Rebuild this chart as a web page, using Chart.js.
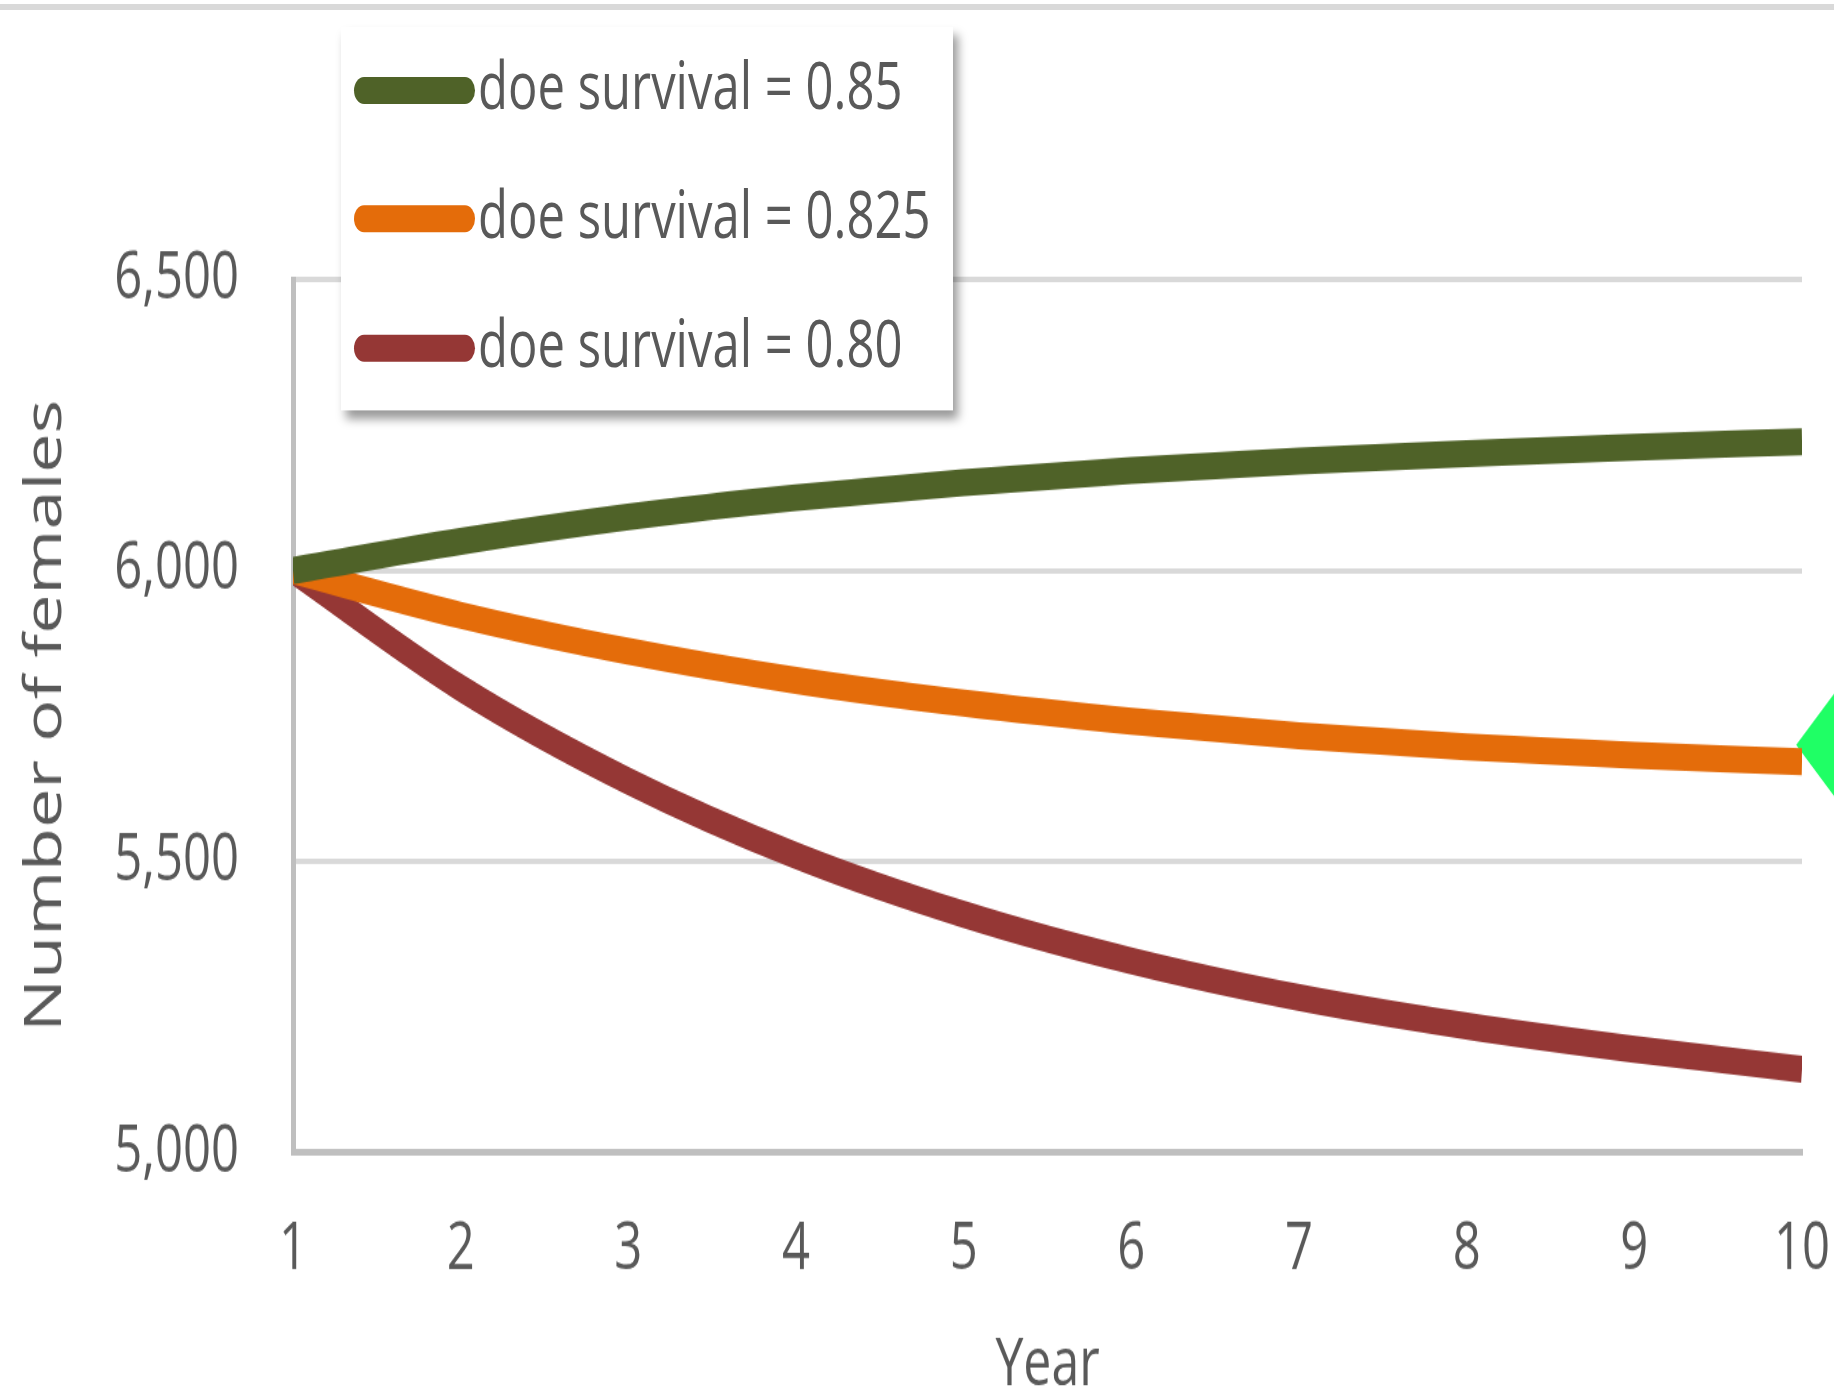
<!DOCTYPE html>
<html>
<head>
<meta charset="utf-8">
<title>Number of females by year</title>
<script src="https://cdn.jsdelivr.net/npm/chart.js@4.4.1/dist/chart.umd.min.js"></script>
<style>
  html, body { margin: 0; padding: 0; background: #fff; overflow: hidden; }
  body { width: 1834px; height: 1391px; position: relative; font-family: 'Open Sans', sans-serif; }
  #top-rule { position: absolute; left: 0; top: 4px; width: 1834px; height: 6px; background: #d9d9d9; }
  /* chart is laid out at 1030px tall and stretched to fill the page;
     the canvas runs a little past the right edge of the page */
  #stage { position: absolute; left: 0; top: 0; width: 1900px; height: 1030px; transform: scaleY(1.35); transform-origin: 0 0; }
  #chart-wrap { position: absolute; left: 0; top: 0; width: 1900px; height: 1030px; }
  #legend { position: absolute; left: 341px; top: 20px; width: 612px; height: 284px; background: #fff;
            box-shadow: 5px 6px 8px rgba(0, 0, 0, 0.4); }
  .swatch { position: absolute; left: 13px; width: 121px; height: 20px; border-radius: 10px; }
  .legend-label { position: absolute; left: 137px; font-size: 49px; line-height: 49px; color: #595959; white-space: nowrap; }
</style>
</head>
<body>
<div id="top-rule"></div>
<div id="stage">
  <div id="chart-wrap"><canvas id="femalesChart"></canvas></div>
  <div id="legend"></div>
</div>
<script>
const years = [1, 2, 3, 4, 5, 6, 7, 8, 9, 10];
const survival085 = [6000, 6050, 6092, 6125, 6151, 6172, 6188, 6201, 6212, 6221];
const survival0825 = [6000, 5923, 5861, 5811, 5772, 5741, 5716, 5697, 5682, 5671];
const survival080 = [6000, 5798, 5638, 5510, 5409, 5329, 5266, 5217, 5177, 5143];
const seriesLabels = ['doe survival = 0.85', 'doe survival = 0.825', 'doe survival = 0.80'];
const seriesColors = ['#4f6228', '#e46c0a', '#953735'];
const yTickValues = [5000, 5500, 6000, 6500];

// green marker sitting just past the last year
const markerX = [10.21];
const markerY = [5700];

const TEXT_COLOR = '#595959';
const CHART_HEIGHT = 1030;
const PLOT_BOTTOM = 853.6;

Chart.defaults.font.family = "'Open Sans', sans-serif";

function toPoints(xs, ys) {
    return xs.map((x, i) => ({ x: x, y: ys[i] }));
}

function lineSet(index, values) {
    return {
        label: seriesLabels[index],
        data: toPoints(years, values),
        borderColor: seriesColors[index],
        backgroundColor: seriesColors[index],
        borderWidth: 20,
        borderCapStyle: 'butt',
        borderJoinStyle: 'round',
        pointRadius: 0,
        tension: 0.4,
        cubicInterpolationMode: 'monotone',
        fill: false
    };
}

const ctx = document.getElementById('femalesChart').getContext('2d');
const chart = new Chart(ctx, {
    type: 'line',
    data: {
        datasets: [
            lineSet(0, survival085),
            lineSet(1, survival0825),
            lineSet(2, survival080),
            {
                type: 'scatter',
                data: toPoints(markerX, markerY),
                pointStyle: 'rectRot',
                pointRadius: 41,
                backgroundColor: '#1fff65',
                borderWidth: 0,
                showLine: false,
                clip: false
            }
        ]
    },
    options: {
        responsive: true,
        maintainAspectRatio: false,
        animation: false,
        layout: { padding: { top: 207, right: 98, bottom: 0, left: 0 } },
        plugins: {
            legend: { display: false },
            tooltip: { enabled: false }
        },
        scales: {
            x: {
                type: 'linear',
                min: 1,
                max: 10,
                grid: { display: false, drawTicks: false },
                border: { color: '#bfbfbf', width: 5 },
                ticks: {
                    stepSize: 1,
                    padding: 43,
                    color: TEXT_COLOR,
                    font: { size: 49 }
                },
                title: {
                    display: true,
                    text: 'Year',
                    color: TEXT_COLOR,
                    font: { size: 50, lineHeight: 0.72 },
                    padding: { top: 0, bottom: 0 }
                },
                afterFit: scale => {
                    scale.height = CHART_HEIGHT - PLOT_BOTTOM;
                    scale.paddingLeft = 0;
                    scale.paddingRight = 0;
                }
            },
            y: {
                min: 5000,
                max: 6500,
                afterBuildTicks: scale => {
                    scale.ticks = yTickValues.map(v => ({ value: v }));
                },
                grid: {
                    drawTicks: false,
                    lineWidth: 4,
                    color: c => (c.tick && c.tick.value === 5000) ? 'rgba(0,0,0,0)' : '#d9d9d9'
                },
                border: { color: '#bfbfbf', width: 5 },
                ticks: {
                    padding: 54,
                    color: TEXT_COLOR,
                    font: { size: 49 },
                    callback: value => value.toLocaleString('en-US')
                },
                title: {
                    display: true,
                    text: 'Number of females',
                    color: TEXT_COLOR,
                    font: { size: 52, lineHeight: 1 },
                    padding: { top: 20, bottom: 0 }
                },
                afterFit: scale => {
                    scale.width = 293;
                    scale.paddingTop = 0;
                    scale.paddingBottom = 0;
                }
            }
        }
    }
});

// legend box drawn over the plot, built from the line datasets
function buildLegend() {
    const box = document.getElementById('legend');
    box.innerHTML = '';
    chart.data.datasets.forEach((ds, i) => {
        if (!ds.label) return;
        const swatch = document.createElement('div');
        swatch.className = 'swatch';
        swatch.style.background = ds.borderColor;
        swatch.style.top = (36.7 + i * 95.5) + 'px';
        box.appendChild(swatch);

        const label = document.createElement('div');
        label.className = 'legend-label';
        label.textContent = ds.label;
        label.style.top = (17.5 + i * 95.5) + 'px';
        box.appendChild(label);
    });
}

buildLegend();
</script>
</body>
</html>
